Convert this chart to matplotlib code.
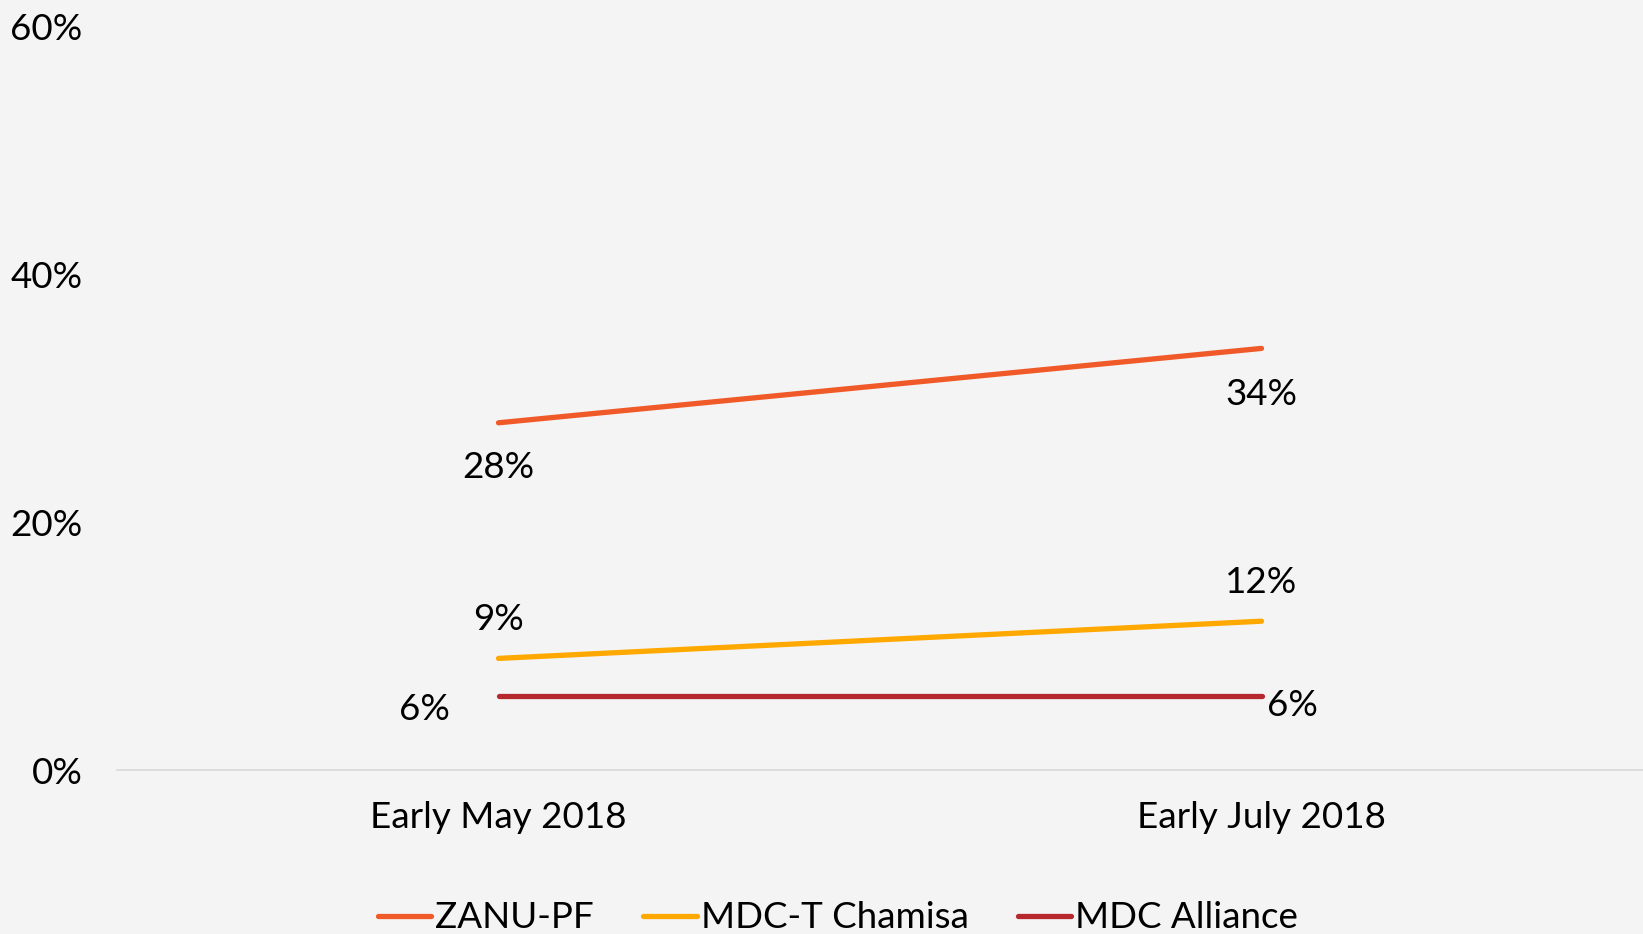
import matplotlib
matplotlib.use("Agg")
import matplotlib.pyplot as plt

categories = ["Early May 2018", "Early July 2018"]
series_names = ["ZANU-PF", "MDC-T Chamisa", "MDC Alliance"]
zanu_pf = [28, 34]
mdc_t_chamisa = [9, 12]
mdc_alliance = [6, 6]
y_ticks = [0, 20, 40, 60]
y_tick_labels = ["0%", "20%", "40%", "60%"]

colors = ["#F05A28", "#FFA800", "#B7282E"]
font = ["Lato", "DejaVu Sans"]
plt.rcParams["font.family"] = font

W, H = 1643, 934
fig = plt.figure(figsize=(W / 100, H / 100), dpi=100)
bg = "#f4f4f4"
fig.patch.set_facecolor(bg)
ax = fig.add_axes([117 / W, 1 - 770 / H, 1 - 117 / W, (770 - 26) / H])
ax.set_facecolor(bg)

x = list(range(len(categories)))
lines = []
for name, vals, c in zip(series_names, [zanu_pf, mdc_t_chamisa, mdc_alliance], colors):
    ln, = ax.plot(x, vals, color=c, lw=3.8, solid_capstyle="round", label=name, zorder=3)
    lines.append(ln)

fs = 26.5
ax.annotate(f"{zanu_pf[0]}%", (x[0], zanu_pf[0]), xytext=(0, -32), textcoords="offset points",
            ha="center", va="center", fontsize=fs)
ax.annotate(f"{zanu_pf[1]}%", (x[1], zanu_pf[1]), xytext=(0, -33), textcoords="offset points",
            ha="center", va="center", fontsize=fs)
ax.annotate(f"{mdc_t_chamisa[0]}%", (x[0], mdc_t_chamisa[0]), xytext=(0, 28), textcoords="offset points",
            ha="center", va="center", fontsize=fs)
ax.annotate(f"{mdc_t_chamisa[1]}%", (x[1], mdc_t_chamisa[1]), xytext=(0, 28), textcoords="offset points",
            ha="center", va="center", fontsize=fs)
ax.annotate(f"{mdc_alliance[0]}%", (x[0], mdc_alliance[0]), xytext=(-53, -10), textcoords="offset points",
            ha="center", va="center", fontsize=fs)
ax.annotate(f"{mdc_alliance[1]}%", (x[1], mdc_alliance[1]), xytext=(22, -7), textcoords="offset points",
            ha="center", va="center", fontsize=fs)

ax.set_xlim(-0.5, 1.5)
ax.set_ylim(0, 60)
ax.set_yticks(y_ticks)
ax.set_yticklabels(y_tick_labels)
ax.set_xticks(x)
ax.set_xticklabels(categories)
ax.tick_params(axis="y", length=0, pad=25, labelsize=fs)
ax.tick_params(axis="x", length=0, pad=22, labelsize=fs)
for s in ["top", "right", "left"]:
    ax.spines[s].set_visible(False)
ax.spines["bottom"].set_color("#d9d9d9")
ax.spines["bottom"].set_linewidth(1.2)

leg = fig.legend(handles=lines, loc="center", bbox_to_anchor=(838 / W, 1 - 918 / H), ncol=3,
                 frameon=False, fontsize=fs, handlelength=1.45, handletextpad=0.1,
                 columnspacing=1.35)

fig.savefig("out.png", dpi=100, facecolor=bg)
